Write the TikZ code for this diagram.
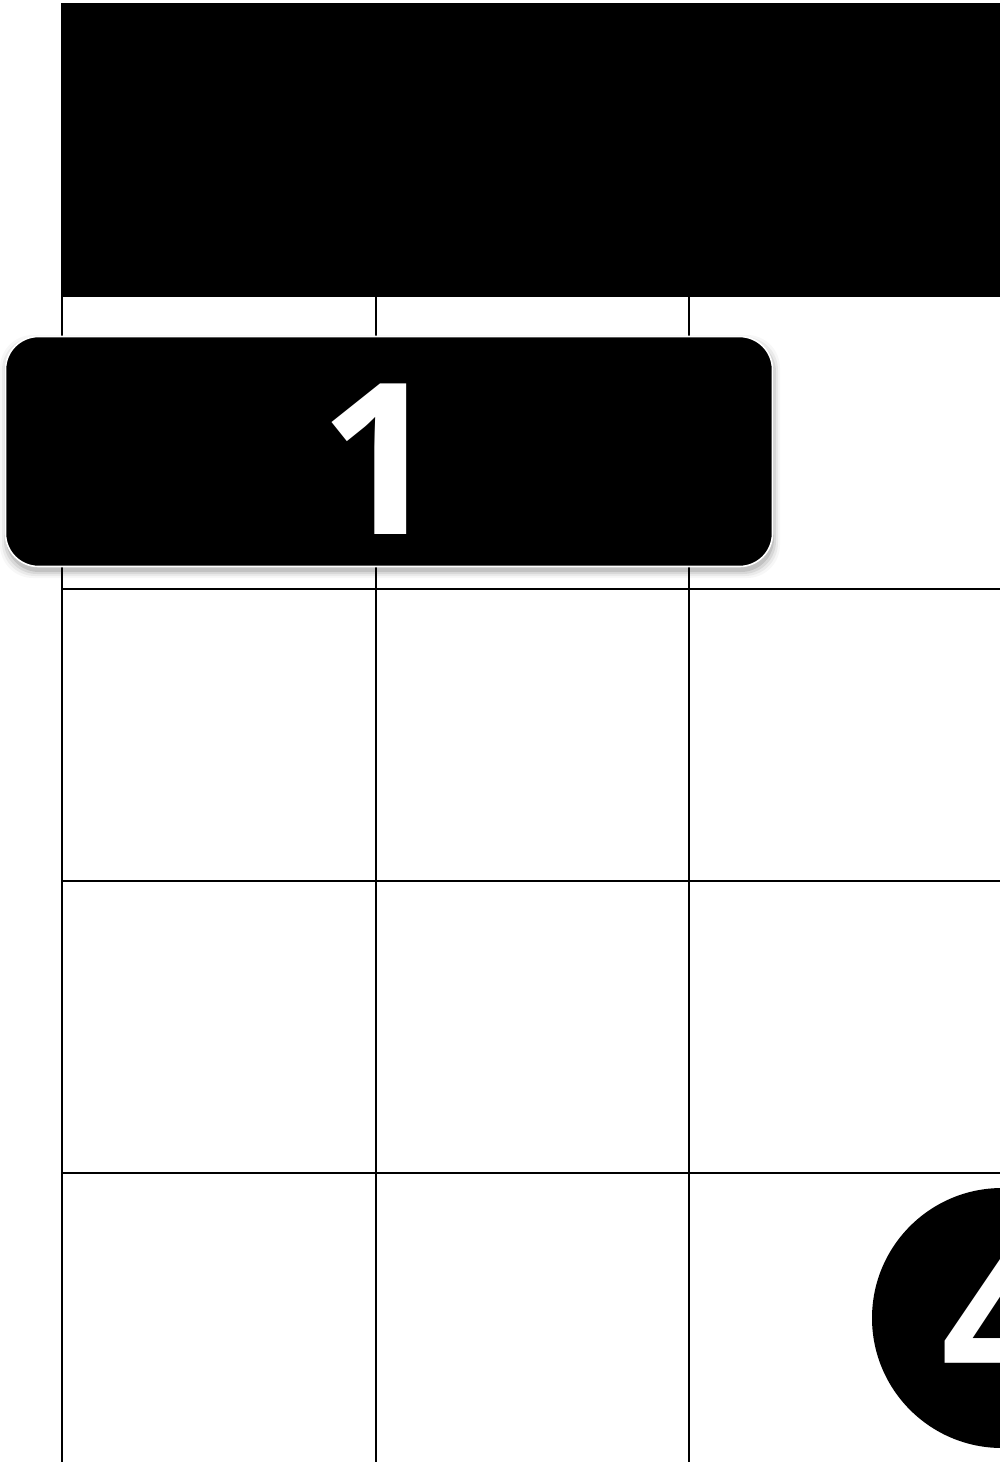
\documentclass[tikz,border=0pt]{standalone}
\usepackage{fontspec}
\setmainfont{Open Sans}
\begin{document}
\begin{tikzpicture}[x=1pt,y=-1pt,
  gridline/.style={line width=2.3pt,black},
  bigdigit/.style={text=white,inner sep=0pt,anchor=base,font=\fontsize{211}{211}\selectfont\bfseries}]
\clip (0,0) rectangle (1000,1462);
\fill[white] (0,0) rectangle (1000,1462);
% header
\node[fill=black,inner sep=0pt,minimum width=960pt,minimum height=294pt,anchor=north west] (header) at (61,3) {};
% grid
\coordinate (v1t) at (62,297); \coordinate (v1b) at (62,1462);
\coordinate (v2t) at (376,297); \coordinate (v2b) at (376,1462);
\coordinate (v3t) at (689,297); \coordinate (v3b) at (689,1462);
\coordinate (h1l) at (61,589); \coordinate (h1r) at (1000,589);
\coordinate (h2l) at (61,881); \coordinate (h2r) at (1000,881);
\coordinate (h3l) at (61,1173); \coordinate (h3r) at (1000,1173);
\draw[gridline] (v1t) -- (v1b);
\draw[gridline] (v2t) -- (v2b);
\draw[gridline] (v3t) -- (v3b);
\draw[gridline] (h1l) -- (h1r);
\draw[gridline] (h2l) -- (h2r);
\draw[gridline] (h3l) -- (h3r);
% shadow of the label box
\foreach \g/\o in {0/0.10,2/0.07,4/0.05,6/0.03}{
  \fill[black,opacity=\o,rounded corners=33pt] (5-\g+1,336-\g+5) rectangle (773+\g+1,567+\g+5);
}
% label box
\node[fill=black,draw=white,line width=1.6pt,rounded corners=33pt,inner sep=0pt,
      minimum width=767pt,minimum height=230pt] (box) at (389,451.5) {};
\node[bigdigit] (one) at (380,534) {1};
% circle marker
\node[circle,fill=black,inner sep=0pt,minimum size=260pt] (dot) at (1002,1318) {};
\node[bigdigit] (four) at (1002,1394) {4};
\end{tikzpicture}
\end{document}
